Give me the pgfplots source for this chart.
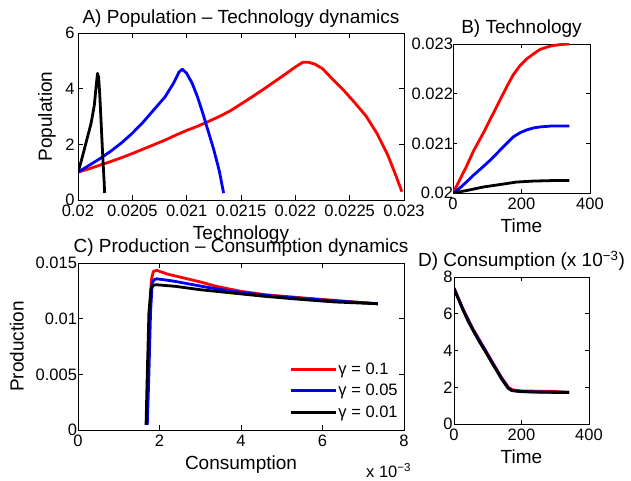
\documentclass[border=0pt]{standalone}
\usepackage{fontspec}
\setmainfont{Liberation Sans}
\usepackage{pgfplots}
\pgfplotsset{compat=1.18}

\newcommand\tk{\fontsize{16.5}{19}\selectfont}
\newcommand\lb{\fontsize{19}{22}\selectfont}

\pgfplotsset{
  mat/.style={
    scale only axis,
    axis line style={line width=0.8pt},
    tick style={line width=0.8pt, black},
    tick align=inside, tick pos=both,
    major tick length=5pt,
    scaled ticks=false,
    /pgf/number format/assume math mode=true,
    tick label style={font=\tk},
    xticklabel style={yshift=-1.5pt},
    every axis title/.style={font=\lb, at={(axis description cs:0.5,1)}, anchor=base, yshift=10pt},
    every axis x label/.style={font=\lb, at={(axis description cs:0.5,0)}, anchor=base, yshift=-40pt},
    every axis y label/.style={font=\lb, rotate=90, anchor=base},
    every axis plot/.append style={line width=2.8pt, line join=round},
  },
}

\begin{document}
\begin{tikzpicture}
\path[use as bounding box] (0,0) rectangle (631pt,481pt);

% A) population vs technology
\begin{axis}[mat,
  at={(78pt,281pt)}, anchor=south west,
  width=326pt, height=167pt,
  xmin=0.02, xmax=0.023, ymin=0, ymax=6,
  xtick={0.02,0.0205,0.021,0.0215,0.022,0.0225,0.023},
  xticklabels={0.02,0.0205,0.021,0.0215,0.022,0.0225,0.023},
  ytick={0,2,4,6},
  title={A) Population -- Technology dynamics},
  xlabel={Technology}, ylabel={Population},
  ylabel style={at={(axis description cs:-0.08,0.5)}},
]
\addplot[red] coordinates {
(0.02000,1.00) (0.02010,1.12) (0.02020,1.25) (0.02030,1.38) (0.02040,1.52)
(0.02050,1.67) (0.02060,1.83) (0.02070,1.99) (0.02080,2.15) (0.02090,2.33)
(0.02100,2.50) (0.02110,2.65) (0.02120,2.82) (0.02130,3.00) (0.02140,3.20)
(0.02150,3.45) (0.02160,3.70) (0.02170,3.96) (0.02180,4.23) (0.02190,4.50)
(0.02200,4.78) (0.02207,4.95) (0.02212,4.95) (0.02218,4.88) (0.02225,4.72)
(0.02235,4.31) (0.02245,3.92) (0.02255,3.48) (0.02265,3.02) (0.02275,2.40)
(0.02285,1.62) (0.02292,0.93) (0.02298,0.30)
};
\addplot[blue] coordinates {
(0.02000,1.00) (0.02005,1.12) (0.02010,1.24) (0.02020,1.48) (0.02030,1.75)
(0.02040,2.05) (0.02050,2.40) (0.02060,2.80) (0.02070,3.25) (0.02080,3.70)
(0.02088,4.20) (0.02093,4.60) (0.02096,4.70) (0.02100,4.55) (0.02105,4.20)
(0.02110,3.70) (0.02115,3.10) (0.02120,2.45) (0.02125,1.80) (0.02130,1.05)
(0.02134,0.25)
};
\addplot[black] coordinates {
(0.02000,1.00) (0.02003,1.40) (0.02006,1.85) (0.02009,2.30) (0.02012,2.75)
(0.02015,3.40) (0.02017,4.20) (0.02018,4.55) (0.02019,4.40) (0.02020,3.80)
(0.02021,3.00) (0.02022,2.20) (0.02023,1.40) (0.02024,0.70) (0.020245,0.25)
};
\end{axis}

% B) technology vs time
\begin{axis}[mat,
  at={(453pt,288pt)}, anchor=south west,
  width=137pt, height=149pt,
  xmin=0, xmax=400, ymin=0.02, ymax=0.023,
  xtick={0,200,400},
  ytick={0.02,0.021,0.022,0.023},
  yticklabels={0.02,0.021,0.022,0.023},
  major tick length=4pt,
  yticklabel style={xshift=3.5pt},
  title={B) Technology},
  xlabel={Time},
]
\addplot[red] coordinates {
(0,0.02000) (20,0.02027) (39,0.02053) (60,0.02085) (88,0.02120) (110,0.02150)
(137,0.02187) (160,0.02218) (176,0.02238) (195,0.02256) (215,0.02270)
(235,0.02280) (254,0.02289) (275,0.02294) (293,0.02297) (315,0.02299) (340,0.02300)
};
\addplot[blue] coordinates {
(0,0.02000) (20,0.02010) (39,0.02022) (60,0.02036) (88,0.02053) (110,0.02067)
(137,0.02086) (160,0.02102) (176,0.02113) (195,0.02121) (215,0.02127)
(235,0.02131) (254,0.02133) (290,0.02135) (340,0.02135)
};
\addplot[black] coordinates {
(0,0.02000) (40,0.02005) (88,0.02012) (137,0.02017) (185,0.02022)
(234,0.02024) (290,0.02025) (340,0.02025)
};
\end{axis}

% C) production vs consumption
\begin{axis}[mat,
  at={(78pt,51pt)}, anchor=south west,
  width=326pt, height=167pt,
  xmin=0, xmax=8, ymin=0, ymax=0.015,
  xtick={0,2,4,6,8},
  ytick={0,0.005,0.01,0.015},
  yticklabels={0,0.005,0.01,0.015},
  yticklabel style={xshift=2.5pt},
  title={C) Production -- Consumption dynamics},
  xlabel={Consumption}, ylabel={Production},
  ylabel style={at={(axis description cs:-0.167,0.5)}},
  legend cell align=left,
  legend image code/.code={\draw[#1] (0pt,0pt) -- (45pt,0pt);},
  legend style={draw=none, fill=none, font=\tk,
    at={(axis description cs:0.638,0.425)}, anchor=north west,
    row sep=5.5pt, nodes={inner sep=1.5pt}},
]
\addplot[red] coordinates {
(1.69,0.0006) (1.72,0.0050) (1.76,0.0105) (1.80,0.0135) (1.85,0.01425)
(1.93,0.01434) (2.2,0.0140) (2.6,0.01365) (3.0,0.0133) (3.4,0.0129)
(4.0,0.01245) (4.6,0.01215) (5.4,0.0119) (6.3,0.01164) (7.36,0.01134)
};
\addlegendentry{γ = 0.1}
\addplot[blue] coordinates {
(1.70,0.00045) (1.74,0.0050) (1.78,0.0105) (1.82,0.0132) (1.87,0.0135)
(1.93,0.01358) (2.3,0.0134) (2.6,0.0132) (3.2,0.0128) (3.8,0.01245)
(4.6,0.0121) (5.4,0.01185) (6.3,0.0116) (7.36,0.01134)
};
\addlegendentry{γ = 0.05}
\addplot[black] coordinates {
(1.67,0.00045) (1.70,0.0050) (1.74,0.0105) (1.79,0.0127) (1.85,0.0130)
(1.92,0.01305) (2.4,0.0129) (3.0,0.0126) (3.8,0.0123) (4.6,0.0120)
(5.4,0.01175) (6.3,0.0115) (7.36,0.01134)
};
\addlegendentry{γ = 0.01}
\end{axis}
\node[anchor=base west, font=\tk, inner sep=0pt] at (366pt,3pt) {x 10\textsuperscript{−3}};

% D) consumption vs time
\begin{axis}[mat,
  at={(454pt,57pt)}, anchor=south west,
  width=135pt, height=147pt,
  xmin=0, xmax=400, ymin=0, ymax=8,
  xtick={0,200,400},
  ytick={0,2,4,6,8},
  major tick length=4pt,
  yticklabel style={xshift=2pt},
  title={D) Consumption (x 10\textsuperscript{−3})},
  xlabel={Time},
]
\addplot[red] coordinates {
(0,7.40) (27,6.25) (56,5.18) (96,3.93) (125,3.02) (142,2.50) (162,1.98)
(175,1.85) (200,1.80) (260,1.78) (290,1.78) (341,1.72)
};
\addplot[blue] coordinates {
(0,7.38) (27,6.22) (56,5.14) (96,3.89) (125,2.98) (142,2.46) (161,1.96)
(172,1.82) (200,1.76) (260,1.74) (300,1.73) (341,1.72)
};
\addplot[black] coordinates {
(0,7.37) (13,6.80) (27,6.19) (41,5.62) (56,5.11) (76,4.45) (96,3.85)
(110,3.40) (125,2.94) (142,2.42) (160,1.95) (170,1.83) (190,1.78)
(220,1.75) (260,1.73) (300,1.72) (341,1.72)
};
\end{axis}
\end{tikzpicture}
\end{document}
